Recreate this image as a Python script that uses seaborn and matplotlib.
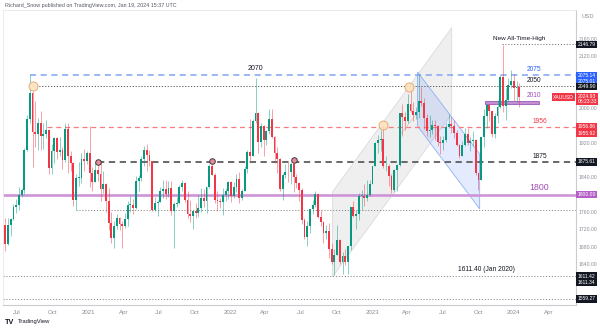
import matplotlib
matplotlib.use("Agg")
import matplotlib.pyplot as plt
import matplotlib.dates as mdates
import matplotlib.transforms as mtransforms
from matplotlib.patches import Polygon, Rectangle
import numpy as np
import pandas as pd
import seaborn as sns

# ---------------------------------------------------------------- data
# XAUUSD weekly candles, Jun 2020 - Jan 2024
week_start = pd.date_range("2020-06-01", "2024-01-15", freq="W-MON")

opens = [
    # 2020
    1730, 1685, 1730, 1743, 1771, 1775, 1799, 1810, 1902, 1975, 2035, 1944, 1940, 1964, 1934, 1940,
    1950, 1861, 1900, 1930, 1899, 1902, 1879, 1952, 1889, 1872, 1788, 1839, 1839, 1881, 1877,
    # 2021
    1895, 1849, 1828, 1856, 1848, 1813, 1824, 1784, 1734, 1700, 1727, 1745, 1732, 1728, 1744, 1777,
    1777, 1768, 1831, 1838, 1881, 1903, 1891, 1877, 1764, 1781, 1783, 1808, 1812, 1802, 1814, 1763,
    1779, 1781, 1817, 1827, 1787, 1754, 1750, 1761, 1757, 1768, 1793, 1784, 1818, 1865, 1846, 1788,
    1784, 1783, 1798, 1809,
    # 2022
    1829, 1797, 1817, 1835, 1791, 1808, 1860, 1898, 1889, 1970, 1988, 1921, 1958, 1925, 1946, 1974,
    1932, 1897, 1883, 1812, 1846, 1853, 1851, 1871, 1840, 1827, 1811, 1742, 1703, 1727, 1766, 1775,
    1802, 1747, 1737, 1712, 1716, 1675, 1644, 1661, 1695, 1644, 1657, 1645, 1681, 1771, 1751, 1755,
    1797, 1797, 1793, 1798,
    # 2023
    1824, 1865, 1920, 1926, 1928, 1865, 1865, 1842, 1811, 1856, 1868, 1989, 1978, 1969, 2008, 1993,
    1983, 1990, 2017, 2011, 1977, 1946, 1948, 1961, 1958, 1921, 1919, 1925, 1955, 1962, 1959, 1942,
    1914, 1889, 1914, 1940, 1919, 1924, 1925, 1849, 1833, 1933, 1981, 2006, 1992, 1940, 1981, 2002,
    2072, 2004, 2019, 2053,
    # 2024
    2063, 2045, 2049,
]
highs = [
    1745, 1745, 1746, 1779, 1789, 1818, 1815, 1907, 1984, 2075, 2040, 2015, 1976, 1992, 1966, 1973,
    1952, 1917, 1933, 1933, 1933, 1910, 1965, 1966, 1900, 1875, 1848, 1875, 1896, 1906, 1900,
    1959, 1864, 1876, 1876, 1876, 1855, 1826, 1815, 1760, 1740, 1755, 1748, 1740, 1758, 1784, 1797,
    1790, 1843, 1845, 1890, 1913, 1916, 1903, 1877, 1795, 1788, 1818, 1834, 1833, 1832, 1832, 1782,
    1795, 1823, 1834, 1827, 1808, 1787, 1765, 1781, 1800, 1814, 1813, 1818, 1870, 1877, 1849, 1808,
    1793, 1814, 1815, 1831,
    1831, 1829, 1848, 1853, 1812, 1865, 1903, 1974, 1975, 2070, 1990, 1966, 1960, 1948, 1998, 1998,
    1936, 1910, 1885, 1849, 1870, 1874, 1875, 1879, 1847, 1830, 1814, 1745, 1739, 1767, 1788, 1808,
    1802, 1765, 1740, 1730, 1735, 1688, 1675, 1730, 1698, 1668, 1675, 1682, 1772, 1786, 1764, 1804,
    1810, 1824, 1833, 1833,
    1865, 1922, 1937, 1949, 1960, 1890, 1870, 1847, 1858, 1870, 1989, 2009, 1990, 2032, 2048, 2013,
    2003, 2079, 2048, 2022, 1985, 1983, 1971, 1971, 1960, 1934, 1935, 1964, 1987, 1982, 1973, 1949,
    1916, 1923, 1953, 1953, 1933, 1947, 1929, 1850, 1933, 1997, 2009, 2010, 1993, 1988, 2018, 2075,
    2146, 2047, 2070, 2088,
    2078, 2062, 2057,
]
lows = [
    1670, 1683, 1705, 1742, 1757, 1764, 1795, 1802, 1900, 1965, 1863, 1910, 1902, 1902, 1906, 1930,
    1848, 1848, 1873, 1883, 1890, 1860, 1875, 1850, 1855, 1774, 1764, 1820, 1826, 1855, 1870,
    1817, 1808, 1828, 1831, 1785, 1804, 1760, 1717, 1687, 1677, 1720, 1718, 1677, 1723, 1727, 1760,
    1756, 1767, 1808, 1831, 1865, 1855, 1866, 1761, 1761, 1750, 1782, 1791, 1789, 1795, 1753, 1677,
    1772, 1778, 1808, 1782, 1745, 1737, 1721, 1746, 1748, 1760, 1772, 1758, 1815, 1846, 1780, 1762,
    1768, 1753, 1785, 1789,
    1782, 1791, 1805, 1780, 1788, 1808, 1850, 1878, 1889, 1966, 1895, 1910, 1890, 1915, 1940, 1930,
    1872, 1850, 1808, 1787, 1838, 1828, 1825, 1805, 1816, 1784, 1732, 1697, 1681, 1711, 1754, 1771,
    1745, 1728, 1688, 1697, 1654, 1639, 1615, 1660, 1640, 1617, 1638, 1617, 1672, 1747, 1721, 1742,
    1765, 1774, 1784, 1797,
    1824, 1865, 1896, 1900, 1861, 1854, 1819, 1804, 1805, 1809, 1865, 1934, 1949, 1966, 1991, 1969,
    1975, 1976, 2004, 1952, 1936, 1932, 1940, 1925, 1911, 1893, 1902, 1922, 1953, 1942, 1930, 1912,
    1885, 1889, 1913, 1915, 1901, 1913, 1846, 1810, 1833, 1909, 1953, 1970, 1932, 1931, 1965, 2000,
    1990, 1973, 2016, 2045,
    2016, 2013, 2001,
]
closes = [
    1685, 1730, 1743, 1771, 1775, 1799, 1810, 1902, 1975, 2035, 1944, 1940, 1964, 1934, 1940, 1950,
    1861, 1900, 1930, 1899, 1902, 1879, 1952, 1889, 1872, 1788, 1839, 1839, 1881, 1877, 1895,
    1849, 1828, 1856, 1848, 1813, 1824, 1784, 1734, 1700, 1727, 1745, 1732, 1728, 1744, 1777, 1777,
    1768, 1831, 1838, 1881, 1903, 1891, 1877, 1764, 1781, 1783, 1808, 1812, 1802, 1814, 1763, 1779,
    1781, 1817, 1827, 1787, 1754, 1750, 1761, 1757, 1768, 1793, 1784, 1818, 1865, 1846, 1788, 1784,
    1783, 1798, 1809, 1829,
    1797, 1817, 1835, 1791, 1808, 1860, 1898, 1889, 1970, 1988, 1921, 1958, 1925, 1946, 1974, 1932,
    1897, 1883, 1812, 1846, 1853, 1851, 1871, 1840, 1827, 1811, 1742, 1703, 1727, 1766, 1775, 1802,
    1747, 1737, 1712, 1716, 1675, 1644, 1661, 1695, 1644, 1657, 1645, 1681, 1771, 1751, 1755, 1797,
    1797, 1793, 1798, 1824,
    1865, 1920, 1926, 1928, 1865, 1865, 1842, 1811, 1856, 1868, 1989, 1978, 1969, 2008, 1993, 1983,
    1990, 2017, 2011, 1977, 1946, 1948, 1961, 1958, 1921, 1919, 1925, 1955, 1962, 1959, 1942, 1914,
    1889, 1914, 1940, 1919, 1924, 1925, 1849, 1833, 1933, 1981, 2006, 1992, 1940, 1981, 2002, 2072,
    2004, 2019, 2053, 2063,
    2045, 2049, 2024.93,
]

# horizontal levels
ath_level = 2146.79
level_2075 = 2075.0
level_2050 = 2050.0
level_1956 = 1956.0
level_1875 = 1875.0
level_1800 = 1800.0
level_1764 = 1764.0
low_jan_2020 = 1611.40
low_1559 = 1559.27
zone_2010 = (2008.0, 2016.0)

# swing points that were circled
touch_dates = ["2020-08-10", "2023-01-30", "2023-04-07"]
touch_prices = [2050, 1960, 2048]
pivot_dates = ["2021-01-25", "2021-11-15", "2022-06-13"]
pivot_prices = [1876, 1877, 1879]

# right-axis price tags: (text, price position, colour)
price_tags = [
    ("2146.79", 2146.79, "#131722"),
    ("2075.14", 2075.14, "#2962FF"),
    ("2075.01", 2062.0, "#2962FF"),
    ("2049.90", 2049.90, "#131722"),
    ("1956.86", 1956.86, "#F23645"),
    ("1955.92", 1941.5, "#F23645"),
    ("1875.61", 1875.61, "#131722"),
    ("1800.00", 1800.00, "#B45FC8"),
    ("1611.42", 1611.42, "#131722"),
    ("1611.34", 1597.5, "#131722"),
    ("1559.27", 1559.27, "#131722"),
]
last_price = "2024.93"
countdown = "06:23:33"

quarter_ticks = pd.date_range("2020-07-01", "2024-04-01", freq="QS")
quarter_labels = ["Jul", "Oct", "2021", "Apr", "Jul", "Oct", "2022", "Apr", "Jul", "Oct",
                  "2023", "Apr", "Jul", "Oct", "2024", "Apr"]
# scale labels left visible between the price tags
price_ticks = [2160, 2120, 2000, 1920, 1840, 1760, 1720, 1680, 1640]

# ---------------------------------------------------------------- style
sns.set_theme(style="white")
plt.rcParams["font.family"] = ["Liberation Sans", "DejaVu Sans"]

UP = "#089981"
DOWN = "#F23645"
GREY_TXT = "#8a8d96"

fig = plt.figure(figsize=(6.0, 3.28), dpi=100)
fig.patch.set_facecolor("white")
ax = fig.add_axes([3 / 600, 23 / 328, 573 / 600, 295 / 328])
ax.set_facecolor("white")

d = lambda s: mdates.date2num(pd.Timestamp(s))
x_left, x_right = d("2020-05-26"), d("2024-06-09")
ax.set_xlim(x_left, x_right)
ax.set_ylim(1545, 2226)

# ---------------------------------------------------------------- channels
channel_up = [(d("2022-09-21"), 1806), (d("2023-07-25"), 2185),
              (d("2023-07-25"), 1986), (d("2022-09-21"), 1610)]
ax.add_patch(Polygon(channel_up, closed=True, facecolor="#ededed", edgecolor="#d6d6d6",
                     lw=0.6, alpha=0.85, zorder=1))
ax.plot([d("2023-03-12"), d("2023-05-01")], [1935, 1993], color="#cfcfcf", lw=0.6, zorder=1.1)

channel_down = [(d("2023-04-28"), 2083), (d("2023-10-05"), 1894),
                (d("2023-10-05"), 1767), (d("2023-04-28"), 1958)]
ax.add_patch(Polygon(channel_down, closed=True, facecolor="#2962FF", edgecolor="none",
                     alpha=0.12, zorder=1.2))
ax.add_patch(Polygon(channel_down, closed=True, fill=False, edgecolor="#8fb0f5", lw=0.6,
                     zorder=1.3))

# ---------------------------------------------------------------- level lines
ax.hlines(level_1800, x_left, x_right, color="#CE93D8", lw=1.9, zorder=1.5)
ax.hlines(level_2075, d("2020-08-03"), x_right, color="#7FA6F5", lw=1.1,
          linestyles=(0, (4, 3)), zorder=1.6)
ax.hlines(level_2050, d("2020-08-10"), x_right, color="#555555", lw=0.7,
          linestyles=(0, (1.2, 1.8)), zorder=1.6)
ax.hlines(level_1956, d("2020-09-17"), x_right, color="#F77C80", lw=0.9,
          linestyles=(0, (4, 3)), zorder=1.6)
ax.hlines(level_1875, d("2021-01-25"), x_right, color="#5d5d5d", lw=1.3,
          linestyles=(0, (3.5, 2.5)), zorder=1.6)
ax.hlines(level_1764, d("2020-11-30"), x_right, color="#8c8c8c", lw=0.7,
          linestyles=(0, (1.2, 1.8)), zorder=1.6)
ax.hlines(low_jan_2020, x_left, x_right, color="#8c8c8c", lw=0.7,
          linestyles=(0, (1.2, 1.8)), zorder=1.6)
ax.hlines(low_1559, x_left, x_right, color="#8c8c8c", lw=0.7,
          linestyles=(0, (1.2, 1.8)), zorder=1.6)
ax.hlines(ath_level, d("2023-12-02"), x_right, color="#777777", lw=0.7,
          linestyles=(0, (1.2, 1.8)), zorder=1.6)

ax.add_patch(Rectangle((d("2023-10-18"), zone_2010[0]), d("2024-03-07") - d("2023-10-18"),
                       zone_2010[1] - zone_2010[0], facecolor="#C48ED3", edgecolor="#9b59b6",
                       lw=0.6, zorder=1.7))

# ---------------------------------------------------------------- candles
x = mdates.date2num(week_start)
o = np.array(opens, float)
h = np.array(highs, float)
l = np.array(lows, float)
c = np.array(closes, float)
colors = np.where(c >= o, UP, DOWN)
ax.vlines(x, l, h, colors=colors, lw=0.6, alpha=0.55, zorder=2)
body_low = np.minimum(o, c)
body_h = np.maximum(np.abs(c - o), 1.5)
ax.bar(x, body_h, bottom=body_low, width=4.8, color=colors, edgecolor="none", zorder=2.1)

# ---------------------------------------------------------------- circled points
touch_df = pd.DataFrame({"date": mdates.date2num(pd.to_datetime(touch_dates)), "price": touch_prices})
pivot_df = pd.DataFrame({"date": mdates.date2num(pd.to_datetime(pivot_dates)), "price": pivot_prices})
sns.scatterplot(data=touch_df, x="date", y="price", ax=ax, s=42, color="#FDE3C2",
                edgecolor="#E3A86A", linewidth=0.7, alpha=0.9, zorder=3)
sns.scatterplot(data=pivot_df, x="date", y="price", ax=ax, s=16, color="#E88A9A",
                edgecolor="#3a3a3a", linewidth=0.7, zorder=3)
ax.set_xlabel("")
ax.set_ylabel("")

# ---------------------------------------------------------------- annotations
lab_x = d("2024-02-22")
lab_x2 = d("2024-03-07")
ax.text(lab_x, 2080, "2075", color="#2962FF", fontsize=4.8, ha="center", va="bottom", zorder=4)
ax.text(lab_x, 2055, "2050", color="#131722", fontsize=4.8, ha="center", va="bottom", zorder=4)
ax.text(lab_x, 2021, "2010", color="#A24DBA", fontsize=4.8, ha="center", va="bottom", zorder=4)
ax.text(lab_x2, 1961, "1956", color="#F23645", fontsize=4.8, ha="center", va="bottom", zorder=4)
ax.text(lab_x2, 1880, "1875", color="#131722", fontsize=4.8, ha="center", va="bottom", zorder=4)
ax.text(lab_x2, 1806, "1800", color="#A24DBA", fontsize=6.3, ha="center", va="bottom", zorder=4)
ax.text(d("2022-03-08"), 2092, "2070", color="#131722", fontsize=5, ha="center", va="center",
        zorder=4)
ax.text(d("2024-01-15"), 2161, "New All-Time-High", color="#131722", fontsize=4.6,
        ha="center", va="center", zorder=4)
ax.text(d("2023-10-22"), 1626, "1611.40 (Jan 2020)", color="#131722", fontsize=4.8,
        ha="center", va="center", zorder=4)

# ---------------------------------------------------------------- axes
ax.yaxis.tick_right()
ax.set_yticks(price_ticks)
ax.set_yticklabels([f"{v:.2f}" for v in price_ticks])
ax.set_xticks(mdates.date2num(quarter_ticks))
ax.set_xticklabels(quarter_labels)
ax.tick_params(axis="y", length=0, pad=2.2, labelsize=3.7, labelcolor=GREY_TXT)
ax.tick_params(axis="x", length=0, pad=3.5, labelsize=4.4, labelcolor=GREY_TXT)
ax.grid(False)
for side in ["left", "top"]:
    ax.spines[side].set_color("#e6e8ee")
    ax.spines[side].set_linewidth(0.6)
ax.spines["right"].set_color("#c9cbd1")
ax.spines["right"].set_linewidth(0.8)
ax.spines["bottom"].set_color("#c9cbd1")
ax.spines["bottom"].set_linewidth(0.8)

tr = mtransforms.blended_transform_factory(ax.transAxes, ax.transData)
tag_style = dict(fontsize=3.6, color="white", va="center", clip_on=False, zorder=10)
for txt, pos, col in price_tags:
    ax.text(1.003, pos, txt, transform=tr, ha="left",
            bbox=dict(boxstyle="square,pad=0.25", fc=col, ec="none"), **tag_style)
ax.text(1.003, 2021, f"{last_price}\n{countdown}", transform=tr, ha="left", linespacing=1.0,
        bbox=dict(boxstyle="square,pad=0.25", fc="#F23645", ec="none"), **tag_style)
ax.text(0.996, 2024.93, "XAUUSD", transform=tr, ha="right",
        bbox=dict(boxstyle="square,pad=0.25", fc="#F23645", ec="none"), **tag_style)
ax.text(1.01, 2212, "USD", transform=tr, fontsize=4.2, color=GREY_TXT, ha="left", va="center",
        clip_on=False, zorder=10)

fig.text(0.008, 1 - 5 / 328, "Richard_Snow published on TradingView.com, Jan 19, 2024 15:37 UTC",
         fontsize=3.9, color="#555a66", ha="left", va="center")
fig.text(0.008, 1 - 322 / 328, "TV", fontsize=5.2, color="#131722", fontweight="bold",
         ha="left", va="center")
fig.text(0.03, 1 - 322 / 328, "TradingView", fontsize=4.2, color="#131722", ha="left", va="center")

fig.savefig("out.png", dpi=100, facecolor="white")
